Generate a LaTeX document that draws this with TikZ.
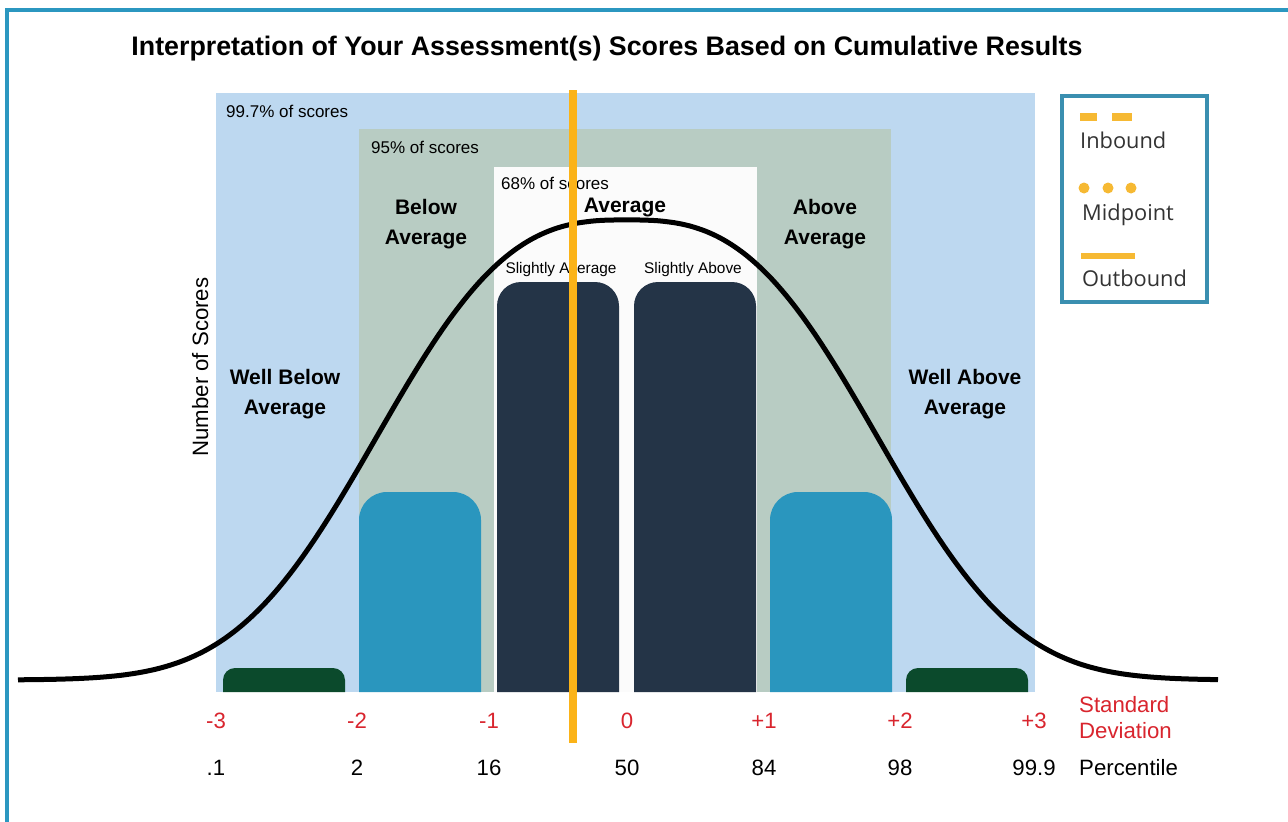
\documentclass[tikz,border=0pt]{standalone}
\usepackage{fontspec}
\setmainfont{Liberation Sans}
\newfontfamily\legfont{Open Sans}
\usetikzlibrary{positioning}
\definecolor{frameblue}{HTML}{2B97C0}
\definecolor{wideblue}{HTML}{BDD8F0}
\definecolor{midgreen}{HTML}{B8CCC3}
\definecolor{coreWhite}{HTML}{FBFBFB}
\definecolor{navy}{HTML}{243447}
\definecolor{barblue}{HTML}{2A96BE}
\definecolor{darkgreen}{HTML}{0B4A2C}
\definecolor{markorange}{HTML}{FBB318}
\definecolor{sdred}{HTML}{D9252E}
\definecolor{legborder}{HTML}{3A8FB0}
\definecolor{legyellow}{HTML}{F6B933}
\definecolor{legtext}{HTML}{333333}
\tikzstyle{tag}=[font=\fontsize{17}{20}\selectfont,anchor=base west,inner sep=0]
\tikzstyle{band}=[font=\fontsize{21}{30}\selectfont\bfseries,align=center,anchor=base,inner sep=0]
\tikzstyle{small}=[font=\fontsize{15.4}{18}\selectfont,anchor=base,inner sep=0]
\tikzstyle{sd}=[text=sdred,font=\fontsize{22.2}{26}\selectfont,anchor=base,inner sep=0]
\tikzstyle{pct}=[font=\fontsize{22.2}{26}\selectfont,anchor=base,inner sep=0]
\tikzstyle{leg}=[text=legtext,font=\legfont\fontsize{21.8}{25}\selectfont,anchor=base west,inner sep=0]
\newcommand{\scorebar}[5]{\fill[#4] (#1,692) [rounded corners=#5] -- (#1,#3) -- (#2,#3) [sharp corners] -- (#2,692) -- cycle;}
\newcommand{\sdtick}[4]{\node[sd] (sd#1) at (#2,728) {#3};\node[pct] (pc#1) at (#2,775) {#4};}

\begin{document}
\begin{tikzpicture}[x=1pt,y=-1pt]
  \useasboundingbox (0,0) rectangle (1288,822);
  \fill[white] (0,0) rectangle (1288,822);
  \draw[frameblue,line width=4] (1292,10) -- (7,10) -- (7,826);

  \node[font=\fontsize{26.8}{30}\selectfont\bfseries,anchor=base] (title) at (607,55)
    {Interpretation of Your Assessment(s) Scores Based on Cumulative Results};

  % score ranges
  \fill[wideblue] (216,93) rectangle (1035,692);
  \fill[midgreen] (359,129) rectangle (891,692);
  \fill[coreWhite] (494,167) rectangle (757,692);
  \node[tag] (r997) at (226,117) {99.7\% of scores};
  \node[tag] (r95) at (371,153) {95\% of scores};
  \node[tag] (r68) at (501,189) {68\% of scores};

  % bars
  \scorebar{223}{345}{668}{darkgreen}{12}
  \scorebar{359}{481}{492}{barblue}{28}
  \scorebar{497}{619}{282}{navy}{24}
  \scorebar{634}{756}{282}{navy}{24}
  \scorebar{770}{892}{492}{barblue}{28}
  \scorebar{906}{1028}{668}{darkgreen}{12}

  % bell curve
  \draw[line width=5] plot[domain=18:1218,samples=151,smooth]
    (\x,{680-460*exp(-((abs(\x-627)+0.01)/294)^2.8)});

  \node[band] (avg) at (625,212) {Average};
  \node[band] (below) at (426,244) {Below\\Average};
  \node[band] (above) at (825,244) {Above\\Average};
  \node[band] (wbelow) at (285,414) {Well Below\\Average};
  \node[band] (wabove) at (965,414) {Well Above\\Average};
  \node[small] (slavg) at (561,273) {Slightly Average};
  \node[small] (slabv) at (693,273) {Slightly Above};
  \node[font=\fontsize{22.2}{26}\selectfont,rotate=90,anchor=base,inner sep=0] (yaxis) at (208,367) {Number of Scores};

  % axis labels
  \sdtick{m3}{216}{-3}{.1}
  \sdtick{m2}{357}{-2}{2}
  \sdtick{m1}{489}{-1}{16}
  \sdtick{z}{627}{0}{50}
  \sdtick{p1}{764}{+1}{84}
  \sdtick{p2}{900}{+2}{98}
  \sdtick{p3}{1034}{+3}{99.9}
  \node[sd,anchor=base west] (sdname) at (1079,712) {Standard};
  \node[sd,anchor=base west] (sdname2) at (1079,738) {Deviation};
  \node[pct,anchor=base west] (pcname) at (1079,775) {Percentile};

  % midpoint marker
  \draw[markorange,line width=8] (573,90) -- (573,743);

  % legend
  \draw[legborder,line width=4,fill=white] (1062,96) rectangle (1207,302);
  \draw[legyellow,line width=8] (1080,117) -- (1097,117) (1112,117) -- (1132,117);
  \foreach \dx in {1084,1108,1131}
    \fill[legyellow] (\dx,188) circle (5.5);
  \draw[legyellow,line width=6] (1081,256) -- (1135,256);
  \node[leg] (inb) at (1080,148) {Inbound};
  \node[leg] (mid) at (1082,220) {Midpoint};
  \node[leg] (outb) at (1082,286) {Outbound};
\end{tikzpicture}
\end{document}
